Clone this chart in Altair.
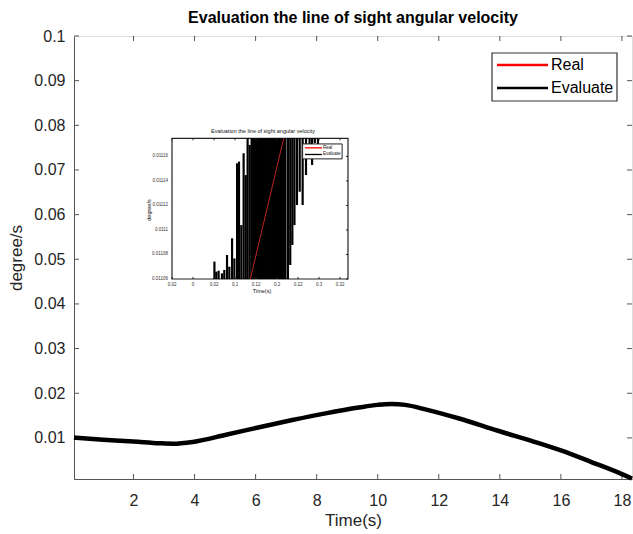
import altair as alt
import pandas as pd

# ---------------- main chart data ----------------
time_s = [0.05, 1, 2, 2.86, 3.3, 3.94, 5.03, 6.12, 7.2, 8.29, 9.38, 10.0, 10.45, 10.9, 11.56,
          12.64, 13.94, 15.25, 16, 17, 18, 18.33]
evaluate = [0.0101, 0.0096, 0.0092, 0.0088, 0.0087, 0.0091, 0.0107, 0.0124, 0.0140, 0.0155,
            0.0168, 0.0174, 0.0176, 0.0174, 0.0164, 0.0144, 0.0116, 0.0089, 0.0072, 0.0046,
            0.0019, 0.0009]
real = [0.0101, 0.0096, 0.0092, 0.0088, 0.0087, 0.0091, 0.0107, 0.0124, 0.0140, 0.0155,
        0.0168, 0.0174, 0.0176, 0.0174, 0.0164, 0.0144, 0.0116, 0.0089, 0.0072, 0.0046,
        0.0019, 0.0009]
x_ticks = [2, 4, 6, 8, 10, 12, 14, 16, 18]
y_ticks = [0.01, 0.02, 0.03, 0.04, 0.05, 0.06, 0.07, 0.08, 0.09, 0.1]
series_names = ["Real", "Evaluate"]
series_colors = ["#ff0000", "#000000"]

# ---------------- inset data (inset axis units) ----------------
inset_seg_x = [2.02, 2.11, 2.22, 2.38, 2.49, 2.62, 2.73, 2.86, 2.97, 3.10, 3.19, 3.30, 3.41, 3.51,
               3.60, 3.70, 3.79,
               3.86, 3.93, 4.00, 4.07, 4.14, 4.21, 4.28, 4.35, 4.42, 4.49, 4.56, 4.63, 4.70,
               4.77, 4.84, 4.91, 4.98, 5.05, 5.12, 5.19, 5.26, 5.33, 5.40,
               5.52, 5.63, 5.73, 5.83, 5.95, 6.08, 6.22, 6.38, 6.67, 6.55, 6.80, 6.95]
inset_seg_lo = [0, 0, 0, 0, 0, 0, 0, 0, 0, 0, 0, 0, 0, 0,
                0, 0, 0,
                0, 0, 0, 0, 0, 0, 0, 0, 0, 0, 0, 0, 0,
                0, 0, 0, 0, 0, 0, 0, 0, 0, 0,
                0, 0.57, 1.39, 2.20, 3.02, 3.56, 3.02, 4.24, 4.65, 5.50, 5.55, 5.50]
inset_seg_hi = [0.71, 0.30, 0.34, 0.23, 0.37, 0.98, 0.50, 1.66, 0.84, 4.72, 4.79, 2.20, 5.13, 4.24,
                5.74, 5.47, 5.74,
                5.74, 5.74, 5.74, 5.74, 5.74, 5.74, 5.74, 5.74, 5.74, 5.74, 5.74, 5.74, 5.74,
                5.74, 5.74, 5.74, 5.74, 5.74, 5.74, 5.74, 5.74, 5.74, 5.74,
                5.74, 5.74, 5.74, 5.74, 5.74, 5.74, 5.74, 5.74, 5.74, 5.74, 5.74, 5.74]
inset_real_x = [3.73, 5.32]
inset_real_y = [0, 5.74]
inset_xtick_pos = [0, 1, 2, 3, 4, 5, 6, 7, 8]
inset_xtick_lab = ["0.02", "0", "0.02", "0.1", "0.12", "0.2", "0.22", "0.3", "0.32"]
inset_ytick_pos = [0, 1, 2, 3, 4, 5]
inset_ytick_lab = ["0.01106", "0.01108", "0.0111", "0.01112", "0.01114", "0.01116"]
inset_x_domain = [0, 8.38]
inset_y_domain = [0, 5.74]

FONT = "Liberation Sans"
W, H = 558, 443
AX = "#555555"

# ---------------- main layers ----------------
rows = []
for t, r, e in zip(time_s, real, evaluate):
    rows.append({"t": t, "v": r, "series": "Real"})
    rows.append({"t": t, "v": e, "series": "Evaluate"})
df = pd.DataFrame(rows)

xs = alt.Scale(domain=[0.05, 18.33], nice=False, zero=False)
ys = alt.Scale(domain=[0.0008, 0.1], nice=False, zero=False)
color = alt.Color("series:N", scale=alt.Scale(domain=series_names, range=series_colors),
                  legend=None)

x_enc = alt.X("t:Q", scale=xs,
              axis=alt.Axis(values=x_ticks, format="d", ticks=False, grid=False,
                            domainColor=AX, labelFontSize=16, labelFont=FONT,
                            labelColor="#262626", labelPadding=13, title="Time(s)",
                            titleFontSize=17, titleFont=FONT, titleFontWeight="normal",
                            titleColor="#262626", titlePadding=4))
y_enc = alt.Y("v:Q", scale=ys,
              axis=alt.Axis(values=y_ticks, format=".2~f", ticks=False, grid=False,
                            domainColor=AX, labelFontSize=16, labelFont=FONT,
                            labelColor="#262626", labelPadding=9, title="degree/s",
                            titleFontSize=17, titleFont=FONT, titleFontWeight="normal",
                            titleColor="#262626", titlePadding=8))

real_line = alt.Chart(df).transform_filter(alt.datum.series == "Real").mark_line(
    strokeWidth=2, interpolate="monotone").encode(x=x_enc, y=y_enc, color=color)
eval_line = alt.Chart(df).transform_filter(alt.datum.series == "Evaluate").mark_line(
    strokeWidth=4.5, interpolate="monotone").encode(x=x_enc, y=y_enc, color=color)

xt = pd.DataFrame({"t": x_ticks})
yt = pd.DataFrame({"v": y_ticks})
tick_style = dict(color=AX, strokeWidth=1)
xb = alt.Chart(xt).mark_rule(**tick_style).encode(
    x=alt.X("t:Q", scale=xs), y=alt.value(H), y2=alt.value(H - 5))
xtop = alt.Chart(xt).mark_rule(**tick_style).encode(
    x=alt.X("t:Q", scale=xs), y=alt.value(0), y2=alt.value(5))
yl = alt.Chart(yt).mark_rule(**tick_style).encode(
    y=alt.Y("v:Q", scale=ys), x=alt.value(0), x2=alt.value(5))
yr = alt.Chart(yt).mark_rule(**tick_style).encode(
    y=alt.Y("v:Q", scale=ys), x=alt.value(W), x2=alt.value(W - 5))

main = alt.layer(xb, xtop, yl, yr, real_line, eval_line)

# ---------------- legend (drawn from the series lists) ----------------
leg_df = pd.DataFrame({"series": series_names, "col": series_colors})
leg_y = alt.Y("series:N", scale=alt.Scale(type="point", domain=series_names, range=[29, 52],
                                          padding=0), axis=None)
leg_box = alt.Chart(pd.DataFrame({"k": [0]})).mark_rect(
    fill="#ffffff", stroke="#333333", strokeWidth=1.2).encode(
    x=alt.value(418), x2=alt.value(543), y=alt.value(17), y2=alt.value(65))
leg_lines = alt.Chart(leg_df).mark_rule(strokeWidth=2.4).encode(
    y=leg_y, x=alt.value(423), x2=alt.value(474), color=alt.Color("col:N", scale=None, legend=None))
leg_text = alt.Chart(leg_df).mark_text(align="left", baseline="middle", fontSize=16, font=FONT,
                                       color="#000000").encode(
    y=leg_y, x=alt.value(477), text="series:N")
legend = alt.layer(leg_box, leg_lines, leg_text)

# ---------------- inset layers ----------------
ixs = alt.Scale(domain=inset_x_domain, range=[98, 274], nice=False, zero=False)
iys = alt.Scale(domain=inset_y_domain, range=[243, 102.3], nice=False, zero=False)

frame_df = pd.DataFrame({"x0": [inset_x_domain[0]], "x1": [inset_x_domain[1]],
                         "y0": [inset_y_domain[0]], "y1": [inset_y_domain[1]]})
frame = alt.Chart(frame_df).mark_rect(fill="#ffffff", stroke="#222222", strokeWidth=1.2).encode(
    x=alt.X("x0:Q", scale=ixs, axis=None), x2="x1:Q",
    y=alt.Y("y0:Q", scale=iys, axis=None), y2="y1:Q")

seg_df = pd.DataFrame({"x": inset_seg_x, "lo": inset_seg_lo, "hi": inset_seg_hi})
segs = alt.Chart(seg_df).mark_rule(color="#000000", strokeWidth=2.2).encode(
    x=alt.X("x:Q", scale=ixs, axis=None),
    y=alt.Y("lo:Q", scale=iys, axis=None), y2="hi:Q")

ir_df = pd.DataFrame({"x": inset_real_x, "y": inset_real_y})
ireal = alt.Chart(ir_df).mark_line(color="#d02828", strokeWidth=0.9).encode(
    x=alt.X("x:Q", scale=ixs, axis=None), y=alt.Y("y:Q", scale=iys, axis=None))

ixt_df = pd.DataFrame({"x": inset_xtick_pos, "lab": inset_xtick_lab})
ixlab = alt.Chart(ixt_df).mark_text(fontSize=4.5, font=FONT, color="#333333", baseline="top").encode(
    x=alt.X("x:Q", scale=ixs, axis=None), y=alt.value(246), text="lab:N")
ixtick = alt.Chart(ixt_df).mark_rule(color="#222222", strokeWidth=1).encode(
    x=alt.X("x:Q", scale=ixs, axis=None), y=alt.value(243), y2=alt.value(241))
ixtick2 = alt.Chart(ixt_df).mark_rule(color="#222222", strokeWidth=1).encode(
    x=alt.X("x:Q", scale=ixs, axis=None), y=alt.value(102.3), y2=alt.value(104.3))

iyt_df = pd.DataFrame({"y": inset_ytick_pos, "lab": inset_ytick_lab})
iylab = alt.Chart(iyt_df).mark_text(fontSize=4.5, font=FONT, color="#333333", align="right").encode(
    y=alt.Y("y:Q", scale=iys, axis=None), x=alt.value(94), text="lab:N")
iytick = alt.Chart(iyt_df).mark_rule(color="#222222", strokeWidth=1).encode(
    y=alt.Y("y:Q", scale=iys, axis=None), x=alt.value(274), x2=alt.value(272))

txt_df = pd.DataFrame({"k": ["title"]})
ititle = alt.Chart(txt_df).mark_text(fontSize=5.5, font=FONT, color="#111111",
                                     text="Evaluation the line of sight angular velocity").encode(
    x=alt.value(189), y=alt.value(95))
iytitle = alt.Chart(txt_df).mark_text(fontSize=5.5, font=FONT, color="#111111", angle=270,
                                      text="degree/s").encode(x=alt.value(75), y=alt.value(174))
ixtitle = alt.Chart(txt_df).mark_text(fontSize=5.5, font=FONT, color="#111111",
                                      text="Time(s)").encode(x=alt.value(188), y=alt.value(255))

# inset legend (inset units)
ileg_box = pd.DataFrame({"x0": [6.22], "x1": [8.10], "y0": [4.90], "y1": [5.51]})
ilegbox = alt.Chart(ileg_box).mark_rect(fill="#ffffff", stroke="#222222", strokeWidth=1).encode(
    x=alt.X("x0:Q", scale=ixs, axis=None), x2="x1:Q",
    y=alt.Y("y0:Q", scale=iys, axis=None), y2="y1:Q")
ileg_df = pd.DataFrame({"x0": [6.33, 6.33], "x1": [7.14, 7.14], "y": [5.35, 5.08],
                        "lab": ["Real", "Evaluate"], "col": ["#ff0000", "#000000"]})
ileglines = alt.Chart(ileg_df).mark_rule(strokeWidth=1.3).encode(
    x=alt.X("x0:Q", scale=ixs, axis=None), x2="x1:Q",
    y=alt.Y("y:Q", scale=iys, axis=None), color=alt.Color("col:N", scale=None, legend=None))
ileglabs = alt.Chart(ileg_df).mark_text(fontSize=4.5, font=FONT, color="#111111", align="left", dx=1).encode(
    x=alt.X("x1:Q", scale=ixs, axis=None), y=alt.Y("y:Q", scale=iys, axis=None), text="lab:N")

inset = alt.layer(frame, segs, ireal, ixtick, ixtick2, iytick, ixlab, iylab,
                  ilegbox, ileglines, ileglabs, ititle, iytitle, ixtitle)

chart = alt.layer(main, inset, legend).resolve_scale(
    x="independent", y="independent", color="independent"
).properties(
    width=W, height=H,
    autosize=alt.AutoSizeParams(type="none"),
    padding={"left": 74, "top": 36, "right": 1, "bottom": 55},
    title=alt.Title("Evaluation the line of sight angular velocity", fontSize=16, font=FONT,
                    fontWeight="bold", color="#000000", anchor="middle", offset=2),
).configure_view(stroke=AX, strokeWidth=1).configure(background="#ffffff")

chart.save("out.html", embed_options={"renderer": "svg", "actions": False})
